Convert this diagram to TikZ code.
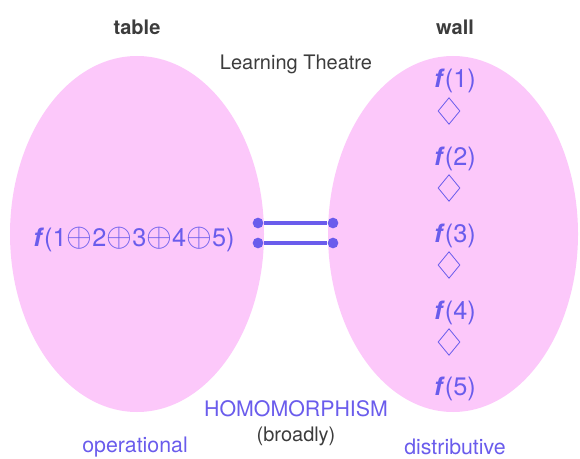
\documentclass[tikz,border=0pt]{standalone}
\usepackage{fontspec}
\setmainfont{TeX Gyre Heros}
\usepackage{xcolor}
\usepackage{tikz}
\usetikzlibrary{shapes.geometric}

\definecolor{blobpink}{RGB}{252,200,250}
\definecolor{homviolet}{RGB}{106,92,236}
\definecolor{inkgray}{RGB}{60,60,60}
\newcommand{\fb}{\textbf{\textit{f}}}
\newcommand{\op}{{\fontsize{27}{27}\selectfont$\oplus$}}

\begin{document}
\begin{tikzpicture}[x=0.75pt, y=-0.75pt,
  blob/.style={ellipse, fill=blobpink, inner sep=0pt},
  head/.style={font=\fontsize{15}{18}\selectfont\bfseries, text=inkgray},
  fx/.style={font=\fontsize{19}{22}\selectfont, text=homviolet, inner sep=1pt},
  gem/.style={diamond, draw=homviolet, line width=0.6pt, minimum width=16.5pt,
              minimum height=20pt, inner sep=0pt},
  tag/.style={font=\fontsize{16}{19}\selectfont, text=homviolet},
  note/.style={font=\fontsize{15}{18}\selectfont, text=inkgray},
  dot/.style={circle, fill=homviolet, minimum size=8pt, inner sep=0pt},
  bond/.style={line width=2.3pt, homviolet},
]
\useasboundingbox (0,0) rectangle (580,459);
% Nodes
\node[blob, minimum width=190.5pt, minimum height=267pt] (tablezone) at (137,234) {};
\node[blob, minimum width=187.5pt, minimum height=267pt] (wallzone)  at (453,234) {};
\node[head] (tablehead) at (137,27) {table};
\node[head] (wallhead)  at (455,27) {wall};
\node[note] (theatre)   at (296,64) {Learning Theatre};
\node[fx]   (whole)     at (134,240) {\fb(1\op2\op3\op4\op5)};
\node[fx]   (f1) at (455,81)  {\fb(1)};
\node[gem]  (g1) at (449,111) {};
\node[fx]   (f2) at (455,159) {\fb(2)};
\node[gem]  (g2) at (449,188) {};
\node[fx]   (f3) at (455,236) {\fb(3)};
\node[gem]  (g3) at (449,265) {};
\node[fx]   (f4) at (455,313) {\fb(4)};
\node[gem]  (g4) at (449,342) {};
\node[fx]   (f5) at (455,389) {\fb(5)};
\node[tag]  (homo)  at (296,409) {HOMOMORPHISM};
\node[note] (broad) at (296,436) {(broadly)};
\node[tag]  (oper)  at (135,447) {operational};
\node[tag]  (distr) at (455,447) {distributive};
% Links
\node[dot] (la) at (258,223) {};
\node[dot] (ra) at (333,223) {};
\node[dot] (lb) at (258,243) {};
\node[dot] (rb) at (333,243) {};
\draw[bond] (la) -- (ra);
\draw[bond] (lb) -- (rb);
\end{tikzpicture}
\end{document}
